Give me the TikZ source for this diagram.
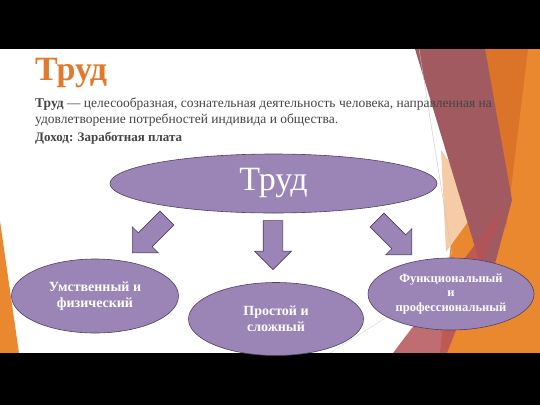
\documentclass[tikz,border=0pt]{standalone}
\usepackage{fontspec}
\setmainfont{Liberation Serif}
\usetikzlibrary{shapes.geometric,shapes.arrows,positioning}

\definecolor{titleorange}{HTML}{E07A2C}
\definecolor{bodygray}{HTML}{454545}
\definecolor{lila}{HTML}{9B85B6}
\definecolor{lilaline}{HTML}{4E4263}
\definecolor{facetbrown}{HTML}{A05A60}
\definecolor{facetred}{HTML}{B5545A}
\definecolor{facetpeach}{HTML}{F5CCA6}
\definecolor{facetorange}{HTML}{EA8830}
\definecolor{facetdark}{HTML}{DB7428}

\tikzset{
  oval/.style={ellipse, draw=lilaline, fill=lila, line width=0.6pt, inner sep=0pt,
    text=white, align=center, font=\bfseries\fontsize{14}{16}\selectfont},
  blockarrow/.style={single arrow, draw=lilaline, fill=lila, line width=0.6pt,
    minimum height=49pt, minimum width=36pt, single arrow head extend=8.5pt,
    single arrow tip angle=90, inner xsep=0pt, inner ysep=9.5pt},
  bodytext/.style={anchor=base west, inner sep=0pt, text=bodygray,
    font=\fontsize{13.5}{16}\selectfont}
}

\begin{document}
\begin{tikzpicture}[x=1pt,y=-1pt]
			%%%%% START %%%%%
			\useasboundingbox (0,0) rectangle (540,405);
			\fill[white] (0,49) rectangle (540,353);

			% facets on the right
			\fill[facetorange] (470,49) -- (540,49) -- (540,353) -- (440,353) -- cycle;
			\fill[facetdark] (485,49) -- (528,49) -- (506,230) -- cycle;
			\fill[facetpeach] (441,150) -- (480,205) -- (446,252) -- cycle;
			\fill[facetbrown] (415,49) -- (485,49) -- (512,200) -- (488,290) -- cycle;
			\fill[facetred, opacity=0.85] (393,353) -- (447,353) -- (505,205) -- cycle;
			\draw[gray!45, line width=0.4pt] (419,49) -- (452,255);
			\draw[gray!30, line width=0.4pt] (330,353) -- (436,286);

			% facet on the left
			\fill[facetorange] (0,221) -- (19,353) -- (0,353) -- cycle;

			% bars
			\fill[black] (0,0) rectangle (540,49);
			\fill[black] (0,353) rectangle (540,405);

			% heading and text
			\node[anchor=base west, inner sep=0pt, text=titleorange,
			  font=\bfseries\fontsize{34}{40}\selectfont] (title) at (35,80) {Труд};
			\node[bodytext] (line1) at (35,107) {\textbf{Труд} — целесообразная, сознательная деятельность человека, направленная на};
			\node[bodytext] (line2) at (35,123) {удовлетворение потребностей индивида и общества.};
			\node[bodytext, font=\bfseries\fontsize{13}{16}\selectfont] (income) at (35,141) {Доход: Заработная плата};

			% scheme
			\node[oval, minimum width=327pt, minimum height=59pt,
			  font=\fontsize{34}{40}\selectfont] (labour) at (273.5,183.5) {Труд};

			\node[blockarrow, rotate=-135, anchor=tip] (arrL) at (132,253) {};
			\node[blockarrow, rotate=-90, anchor=tip] (arrM) at (273,270) {};
			\node[blockarrow, rotate=-45, anchor=tip] (arrR) at (412,255) {};

			\node[oval, minimum width=167pt, minimum height=74pt] (mental) at (95,296) {Умственный и\\физический};
			\node[oval, minimum width=175pt, minimum height=73pt] (simple) at (276,319) {Простой и\\сложный};
			\node[oval, minimum width=166pt, minimum height=72pt,
			  font=\bfseries\fontsize{12.5}{14.5}\selectfont] (functional) at (451,294) {Функциональный\\и\\профессиональный};
			%%%%% END %%%%%
\end{tikzpicture}
\end{document}
